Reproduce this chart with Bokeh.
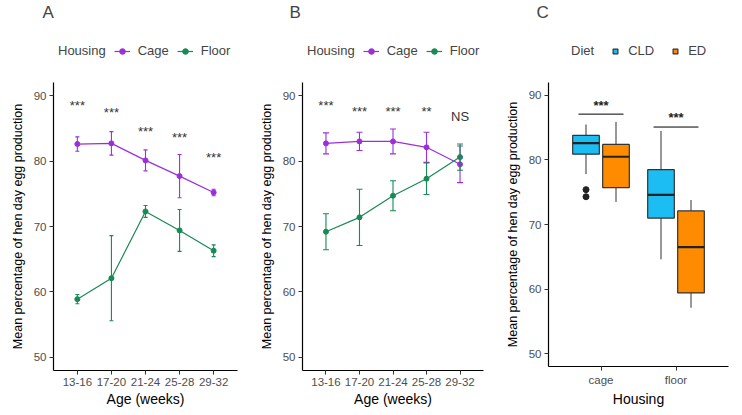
from bokeh.plotting import figure
from bokeh.models import (ColumnDataSource, FactorRange, Whisker, TeeHead, Legend, LegendItem,
                          FixedTicker, Range1d)
from bokeh.layouts import row, column
from bokeh.transform import dodge
from bokeh.core.properties import value
from bokeh.embed import file_html
from bokeh.resources import INLINE

# ---------------- data ----------------
ages = ["13-16", "17-20", "21-24", "25-28", "29-32"]

a_cage_mean = [82.6, 82.7, 80.1, 77.7, 75.2]
a_cage_err = [1.1, 1.8, 1.6, 3.3, 0.5]
a_floor_mean = [58.9, 62.1, 72.3, 69.4, 66.3]
a_floor_err = [0.7, 6.5, 0.9, 3.2, 0.9]
a_sig = ["***", "***", "***", "***", "***"]
a_sig_y = [88.5, 87.4, 84.5, 83.6, 80.6]

b_cage_mean = [82.7, 83.0, 83.0, 82.1, 79.5]
b_cage_err = [1.6, 1.4, 1.9, 2.3, 2.8]
b_floor_mean = [69.2, 71.4, 74.7, 77.3, 80.6]
b_floor_err = [2.75, 4.3, 2.3, 2.4, 2.0]
b_sig = ["***", "***", "***", "**", "NS"]
b_sig_y = [88.5, 87.6, 87.6, 87.6, 86.8]

housing = ["cage", "floor"]
cld_q1 = [80.9, 71.0]
cld_med = [82.6, 74.6]
cld_q3 = [83.8, 78.5]
cld_lo = [77.8, 64.6]
cld_hi = [85.5, 84.5]
ed_q1 = [75.7, 59.4]
ed_med = [80.5, 66.5]
ed_q3 = [82.4, 72.1]
ed_lo = [73.5, 57.1]
ed_hi = [85.9, 73.8]
cld_out_housing = ["cage", "cage"]
cld_out_val = [75.4, 74.3]
c_sig = ["***", "***"]
c_sig_line_y = [87.1, 85.1]
c_sig_y = [88.5, 86.6]

y_ticks = [50, 60, 70, 80, 90]

CAGE = "#9B30DA"
FLOOR = "#178A55"
CLD = "#1CBDF2"
ED = "#FF8C00"
FONT = "Liberation Sans"
HEAD_H = 68
MAIN_H = 341
BL, BR = 53, 12
KEY_X, KEY_Y = [-10.0, -9.0], [-10.0, -10.0]   # legend-key proxies, kept off the header's view


def style(p, xlabel):
    p.xgrid.visible = False
    p.ygrid.visible = False
    p.outline_line_color = None
    p.yaxis.ticker = FixedTicker(ticks=y_ticks)
    p.yaxis.minor_tick_line_color = None
    for ax in (p.xaxis[0], p.yaxis[0]):
        ax.axis_line_color = "black"
        ax.axis_line_width = 1.2
        ax.major_tick_line_color = "#333333"
        ax.major_tick_out = 4
        ax.major_tick_in = 0
        ax.major_label_text_font = FONT
        ax.major_label_text_color = "#4D4D4D"
        ax.major_label_text_font_size = "11.5px"
        ax.axis_label_text_font = FONT
        ax.axis_label_text_font_style = "normal"
        ax.axis_label_text_color = "black"
    p.xaxis.axis_label = xlabel
    p.xaxis.axis_label_text_font_size = "14px"
    p.xaxis.axis_label_standoff = 2
    p.xaxis.major_label_standoff = 3
    p.yaxis.axis_label = "Mean percentage of hen day egg production"
    p.yaxis.axis_label_text_font_size = "12.5px"
    p.yaxis.axis_label_standoff = 6
    p.yaxis.major_label_standoff = 3


def header(width, letter, offset):
    h = figure(width=width, height=HEAD_H, x_range=Range1d(0, 1), y_range=Range1d(0, 1),
               output_backend="svg", toolbar_location=None, title=letter,
               min_border_left=BL, min_border_right=BR, min_border_top=8, min_border_bottom=0)
    h.axis.visible = False
    h.grid.visible = False
    h.outline_line_color = None
    h.title.text_font = FONT
    h.title.text_font_size = "17px"
    h.title.text_font_style = "normal"
    h.title.align = "left"
    h.title.offset = offset
    h.title.standoff = 0
    return h


def make_legend(items, x, gw, spacing, standoff):
    return Legend(items=items, orientation="horizontal", location=(x, 10),
                  border_line_color=None, background_fill_alpha=0,
                  padding=2, margin=0, spacing=spacing, glyph_width=gw, glyph_height=14,
                  label_height=14, label_text_font=FONT, label_text_font_size="13px",
                  label_standoff=standoff)


def main_fig(width, factors):
    xr = FactorRange(factors=factors, range_padding=0.2, range_padding_units="absolute")
    return figure(width=width, height=MAIN_H, x_range=xr, y_range=(48, 92),
                  output_backend="svg", toolbar_location=None, title=None,
                  min_border_left=BL, min_border_right=BR, min_border_top=14,
                  min_border_bottom=10)


def line_panel(letter, cm, ce, fm, fe, sig, sig_y, width, offset, legx, cap):
    head = header(width, letter, offset)
    hg = head.scatter(x=KEY_X, y=KEY_Y, alpha=0)
    items = [LegendItem(label="Housing", renderers=[hg])]

    p = main_fig(width, ages)
    style(p, "Age (weeks)")
    for name, mean, err, col in (("Cage", cm, ce, CAGE), ("Floor", fm, fe, FLOOR)):
        src = ColumnDataSource(dict(age=ages, mean=mean,
                                    upper=[m + e for m, e in zip(mean, err)],
                                    lower=[m - e for m, e in zip(mean, err)]))
        w = Whisker(base="age", upper="upper", lower="lower", source=src,
                    line_color=col, line_width=1.1, level="glyph",
                    upper_head=TeeHead(size=cap, line_color=col, line_width=1.1),
                    lower_head=TeeHead(size=cap, line_color=col, line_width=1.1))
        p.add_layout(w)
        p.line("age", "mean", source=src, line_color=col, line_width=1.2)
        p.scatter("age", "mean", source=src, size=5, color=col)
        kl = head.line(x=KEY_X, y=KEY_Y, line_color=col, line_width=1.2)
        ks = head.scatter(x=KEY_X, y=KEY_Y, size=5, color=col)
        items.append(LegendItem(label=name, renderers=[kl, ks]))
    ssrc = ColumnDataSource(dict(age=ages, y=sig_y, t=sig))
    p.text("age", "y", text="t", source=ssrc, text_align="center", text_baseline="middle",
           text_font=value(FONT), text_font_size="13px", text_color="#333333")
    head.add_layout(make_legend(items, legx, 16, 8, 8))
    return column(head, p, spacing=0)


pa = line_panel("A", a_cage_mean, a_cage_err, a_floor_mean, a_floor_err, a_sig, a_sig_y,
                249, -11, -19, 4)
pb = line_panel("B", b_cage_mean, b_cage_err, b_floor_mean, b_floor_err, b_sig, b_sig_y,
                246, -13, -19, 6)

# ---------------- panel C ----------------
CW = 245
headc = header(CW, "C", -12)
hg = headc.scatter(x=KEY_X, y=KEY_Y, alpha=0)
items = [LegendItem(label="Diet", renderers=[hg])]

pc = main_fig(CW, housing)
xr = pc.x_range
style(pc, "Housing")
for name, q1, med, q3, lo, hi, col, off in (("CLD", cld_q1, cld_med, cld_q3, cld_lo, cld_hi, CLD, -0.2),
                                            ("ED", ed_q1, ed_med, ed_q3, ed_lo, ed_hi, ED, 0.2)):
    src = ColumnDataSource(dict(h=housing, q1=q1, med=med, q3=q3, lo=lo, hi=hi))
    pc.segment(x0=dodge("h", off, range=xr), x1=dodge("h", off, range=xr), y0="q3", y1="hi",
               source=src, line_color="#333333", line_width=1)
    pc.segment(x0=dodge("h", off, range=xr), x1=dodge("h", off, range=xr), y0="q1", y1="lo",
               source=src, line_color="#333333", line_width=1)
    pc.vbar(x=dodge("h", off, range=xr), top="q3", bottom="q1", width=0.355, source=src,
            fill_color=col, line_color="#333333", line_width=1.2)
    pc.segment(x0=dodge("h", off - 0.1775, range=xr), x1=dodge("h", off + 0.1775, range=xr),
               y0="med", y1="med", source=src, line_color="#222222", line_width=2.2)
    kb = headc.scatter(x=KEY_X, y=KEY_Y, marker="square", size=12, fill_color=col,
                       line_color="#333333", line_width=1.2)
    items.append(LegendItem(label=name, renderers=[kb]))
osrc = ColumnDataSource(dict(h=cld_out_housing, v=cld_out_val))
pc.scatter(x=dodge("h", -0.2, range=xr), y="v", source=osrc, size=6, color="#222222")
sl = ColumnDataSource(dict(h=housing, y=c_sig_line_y, ty=c_sig_y, t=c_sig))
pc.segment(x0=dodge("h", -0.3, range=xr), x1=dodge("h", 0.3, range=xr), y0="y", y1="y",
           source=sl, line_color="black", line_width=1)
pc.text("h", "ty", text="t", source=sl, text_align="center", text_baseline="middle",
        text_font=value(FONT), text_font_size="13px", text_color="#222222", text_font_style="bold")
headc.add_layout(make_legend(items, 4, 12, 15, 7))

layout = row(pa, pb, column(headc, pc, spacing=0), spacing=0)
open("out.html", "w").write(file_html(layout, INLINE))
